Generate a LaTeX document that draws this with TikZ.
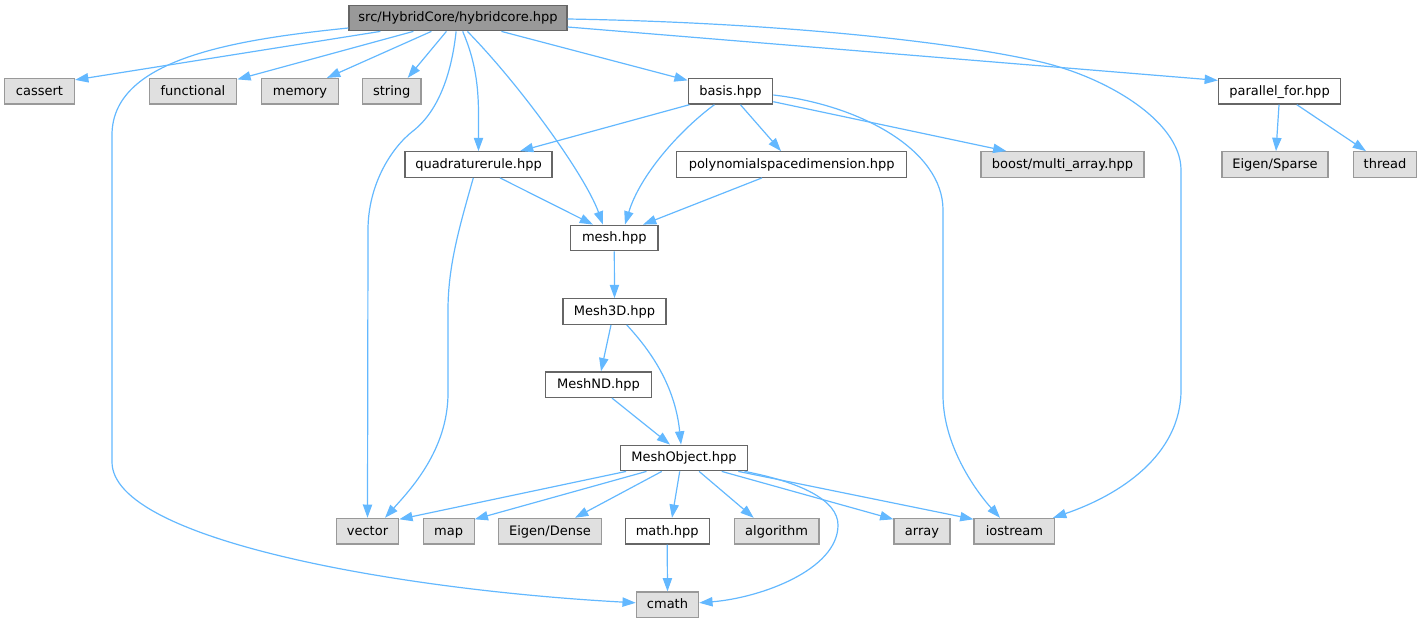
\documentclass[tikz,border=0pt]{standalone}
\usepackage{fontspec}
\setmainfont{DejaVu Sans}
\usetikzlibrary{arrows.meta,calc}
\definecolor{edgeblue}{HTML}{63B8FF}
\definecolor{sysfill}{HTML}{E0E0E0}
\definecolor{sysdraw}{HTML}{999999}
\definecolor{usrdraw}{HTML}{666666}
\definecolor{rootfill}{HTML}{999999}
\begin{document}
\begin{tikzpicture}[x=1pt,y=-1pt,
  box/.style={draw=usrdraw, fill=white, line width=1.2pt, minimum height=25.6pt, inner sep=0pt, text height=10pt, text depth=2.4pt, font=\fontsize{13}{15}\selectfont, text=black},
  sys/.style={box, draw=sysdraw, fill=sysfill},
  root/.style={box, draw=usrdraw, fill=rootfill},
  edge/.style={draw=edgeblue, line width=1.2pt, -{Triangle[length=13.3pt,width=9.3pt]}}]
\useasboundingbox (0,0) rectangle (1423,623);
% row 1
\node[root, minimum width=218pt] (hc) at (458,18) {src/HybridCore/hybridcore.hpp};
% row 2
\node[sys, minimum width=70pt] (cassert) at (39.5,91.3) {cassert};
\node[sys, minimum width=87.4pt] (functional) at (193,91.3) {functional};
\node[sys, minimum width=77.7pt] (memory) at (300,91.3) {memory};
\node[sys, minimum width=58.7pt] (string) at (391.7,91.3) {string};
\node[box, minimum width=84.4pt] (basis) at (730.5,91.3) {basis.hpp};
\node[box, minimum width=122pt] (parallel) at (1279.5,91.3) {parallel\_for.hpp};
% row 3
\node[box, minimum width=147pt] (quad) at (478.5,164.5) {quadraturerule.hpp};
\node[box, minimum width=230pt] (poly) at (791.7,164.5) {polynomialspacedimension.hpp};
\node[sys, minimum width=163pt] (boost) at (1062.5,164.5) {boost/multi\_array.hpp};
\node[sys, minimum width=106pt] (sparse) at (1275,164.5) {Eigen/Sparse};
\node[sys, minimum width=63.6pt] (thread) at (1385,164.5) {thread};
% rows 4-7
\node[box, minimum width=87.3pt] (mesh) at (614.3,238) {mesh.hpp};
\node[box, minimum width=103pt] (m3d) at (614.5,311.5) {Mesh3D.hpp};
\node[box, minimum width=105.7pt] (mnd) at (598.5,384.7) {MeshND.hpp};
\node[box, minimum width=126.7pt] (mobj) at (684,458) {MeshObject.hpp};
% row 8
\node[sys, minimum width=62.3pt] (vector) at (367.5,531.2) {vector};
\node[sys, minimum width=51pt] (map) at (448.6,531.2) {map};
\node[sys, minimum width=103pt] (dense) at (550,531.2) {Eigen/Dense};
\node[box, minimum width=84.2pt] (math) at (667.2,531.2) {math.hpp};
\node[sys, minimum width=84.7pt] (algo) at (776.6,531.2) {algorithm};
\node[sys, minimum width=56pt] (array) at (922,531.2) {array};
\node[sys, minimum width=80.7pt] (iostream) at (1014.4,531.2) {iostream};
% row 9
\node[sys, minimum width=62.3pt] (cmath) at (667.5,604.8) {cmath};

% edges from hybridcore
\draw[edge] ($(hc.south west)+(32,0)$) -- ($(cassert.north east)+(0,2)$);
\draw[edge] ($(hc.south west)+(65,0)$) -- ($(functional.north east)+(0,1.5)$);
\draw[edge] ($(hc.south west)+(83,0)$) -- ($(memory.north)+(27,0)$);
\draw[edge] ($(hc.south west)+(98,0)$) -- ($(string.north)+(16,0)$);
\draw[edge] ($(hc.south west)+(107.7,0)$) .. controls (452,70) and (440,110) .. (413,131)
  .. controls (391,148) and (368,185) .. (368,230) -- (vector.north);
\draw[edge] ($(hc.south west)+(114.3,0)$) .. controls (475,60) and (478.5,85) .. (478.5,115) -- (quad.north);
\draw[edge] ($(hc.south west)+(119,0)$) .. controls (520,85) and (585,175) .. ($(mesh.north)+(-11.3,0)$);
\draw[edge] ($(hc.south west)+(153,0)$) -- ($(basis.north west)+(0,2.5)$);
\draw[edge] ($(hc.west)+(0,10)$) .. controls (230,40) and (112,60) .. (112,135) -- (112,462)
  .. controls (112,540) and (400,590) .. ($(cmath.west)+(0,-2)$);
\draw[edge] ($(hc.east)+(0,1)$) .. controls (750,22) and (930,38) .. (1031.8,60)
  .. controls (1102,74) and (1181,120) .. (1181,170) -- (1181,390)
  .. controls (1181,455) and (1120,495) .. ($(iostream.north)+(38.6,0)$);
\draw[edge] ($(hc.east)+(0,9)$) -- ($(parallel.north west)+(0,2.5)$);

% edges from basis
\draw[edge] ($(basis.south west)+(1.7,0)$) -- ($(quad.north)+(41.5,0)$);
\draw[edge] ($(basis.south west)+(26.7,0)$) .. controls (680,130) and (640,175) .. ($(mesh.north)+(10.7,0)$);
\draw[edge] ($(basis.south west)+(52.7,0)$) -- ($(poly.north)+(-10.7,0)$);
\draw[edge] ($(basis.east)+(0,10.4)$) -- ($(boost.north west)+(26,0)$);
\draw[edge] ($(basis.east)+(0,3.7)$) .. controls (860,105) and (943,150) .. (943,210) -- (943,395)
  .. controls (943,445) and (975,490) .. ($(iostream.north)+(-14.4,0)$);

% edges from parallel_for
\draw[edge] ($(parallel.south)+(-0.5,0)$) -- ($(sparse.north)+(1,0)$);
\draw[edge] ($(parallel.south)+(17.3,0)$) -- ($(thread.north)+(-19,0)$);

% quadraturerule, polynomialspacedimension
\draw[edge] ($(quad.south)+(21.5,0)$) -- ($(mesh.north)+(-21.3,0)$);
\draw[edge] ($(quad.south)+(-5.2,0)$) .. controls (460,225) and (448,265) .. (448,310) -- (448,393)
  .. controls (448,450) and (410,490) .. ($(vector.north)+(17.5,0)$);
\draw[edge] ($(poly.south)+(-29.7,0)$) -- ($(mesh.north)+(28.7,0)$);

% mesh chain
\draw[edge] (mesh.south) -- (m3d.north);
\draw[edge] ($(m3d.south)+(-3.5,0)$) -- ($(mnd.north)+(2.5,0)$);
\draw[edge] ($(m3d.south)+(12.2,0)$) .. controls (650,350) and (675,385) .. ($(mobj.north)+(-3,0)$);
\draw[edge] ($(mnd.south)+(13.5,0)$) -- ($(mobj.north)+(-14,0)$);

% edges from MeshObject
\draw[edge] ($(mobj.south)+(-57.9,0)$) -- ($(vector.north east)+(0,1.5)$);
\draw[edge] ($(mobj.south)+(-37.5,0)$) -- ($(map.north east)+(0,1.5)$);
\draw[edge] ($(mobj.south)+(-22.2,0)$) -- ($(dense.north)+(25,0)$);
\draw[edge] ($(mobj.south)+(-4.3,0)$) -- ($(math.north)+(4.8,0)$);
\draw[edge] ($(mobj.south)+(15.1,0)$) -- ($(algo.north)+(-22.9,0)$);
\draw[edge] ($(mobj.south)+(37.7,0)$) -- ($(array.north west)+(0,1.5)$);
\draw[edge] ($(mobj.south)+(54.3,0)$) -- ($(iostream.north west)+(0,1.5)$);
\draw[edge] ($(mobj.south)+(60.5,0)$) .. controls (800,482) and (838,500) .. (838,525)
  .. controls (838,570) and (760,598) .. ($(cmath.east)+(0,-2)$);
\draw[edge] (math.south) -- (cmath.north);
\end{tikzpicture}
\end{document}
